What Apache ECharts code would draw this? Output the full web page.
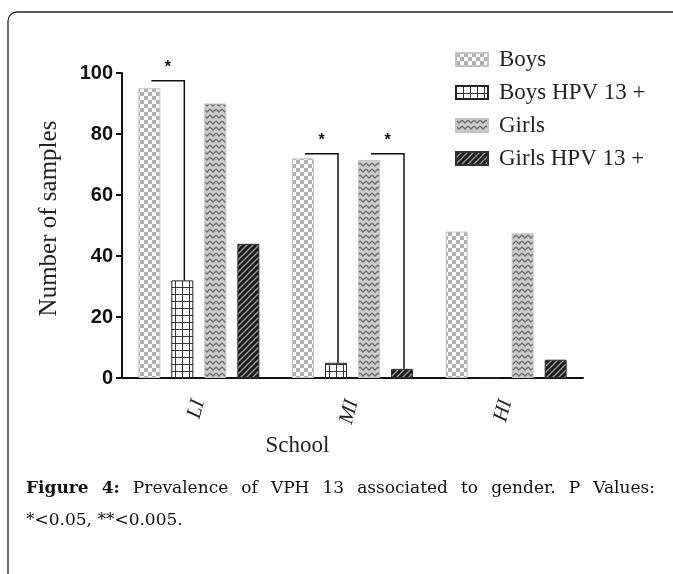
<!DOCTYPE html>
<html>
<head>
<meta charset="utf-8">
<script src="https://cdn.jsdelivr.net/npm/echarts@6/dist/echarts.min.js"></script>
<style>
  html, body { margin: 0; padding: 0; background: #fff; }
  #main { width: 673px; height: 574px; }
</style>
</head>
<body>
<div id="main"></div>
<script>
// data
var schools = ['LI', 'MI', 'HI'];
var seriesNames = ['Boys', 'Boys HPV 13 +', 'Girls', 'Girls HPV 13 +'];
var boys = [95, 72, 48];
var boysHpv = [32, 5, 0];
var girls = [90, 71.5, 47.5];
var girlsHpv = [44, 3, 6];
var yTicks = [0, 20, 40, 60, 80, 100];

// significance brackets: school index, from series, to series, bracket height
var sigSchool = [0, 1, 1];
var sigFrom = [0, 0, 2];
var sigTo = [1, 1, 3];
var sigLevel = [97.5, 73.5, 73.5];

var allValues = [boys, boysHpv, girls, girlsHpv];
var barW = 22, barGapPx = 11;

function barOffset(i) {
    return (i - 1.5) * (barW + barGapPx);
}

function makePattern(w, h, draw) {
    var c = document.createElement('canvas');
    c.width = w; c.height = h;
    draw(c.getContext('2d'));
    return { image: c, repeat: 'repeat' };
}

var checker = makePattern(8, 8, function (ctx) {
    ctx.fillStyle = '#fbfbfb'; ctx.fillRect(0, 0, 8, 8);
    ctx.fillStyle = '#b0b0b0';
    ctx.fillRect(0, 0, 4, 4); ctx.fillRect(4, 4, 4, 4);
});
var grid = makePattern(7, 7, function (ctx) {
    ctx.fillStyle = '#fff'; ctx.fillRect(0, 0, 7, 7);
    ctx.fillStyle = '#333';
    ctx.fillRect(0, 0, 7, 1); ctx.fillRect(0, 0, 1, 7);
});
var wave = makePattern(6, 6, function (ctx) {
    ctx.fillStyle = '#cdcdcd'; ctx.fillRect(0, 0, 6, 6);
    ctx.strokeStyle = '#6e6e6e'; ctx.lineWidth = 1.3;
    ctx.beginPath(); ctx.moveTo(0, 1); ctx.lineTo(3, 4); ctx.lineTo(6, 1); ctx.stroke();
});
var hatch = makePattern(6, 6, function (ctx) {
    ctx.fillStyle = '#1a1a1a'; ctx.fillRect(0, 0, 6, 6);
    ctx.strokeStyle = '#9a9a9a'; ctx.lineWidth = 1.4;
    ctx.beginPath();
    ctx.moveTo(-1, 7); ctx.lineTo(7, -1);
    ctx.moveTo(-1, 1); ctx.lineTo(1, -1);
    ctx.moveTo(5, 7); ctx.lineTo(7, 5);
    ctx.stroke();
});

var fills = [checker, grid, wave, hatch];
var borders = ['#c4c4c4', '#222', '#c4c4c4', '#333'];

var sigData = sigSchool.map(function (s, i) {
    return [s, sigFrom[i], sigTo[i], sigLevel[i]];
});

var barSeries = seriesNames.map(function (name, i) {
    return {
        name: name,
        type: 'bar',
        data: allValues[i],
        barWidth: barW,
        barGap: '50%',
        itemStyle: { color: fills[i], borderColor: borders[i], borderWidth: 1 }
    };
});

barSeries.push({
    type: 'custom',
    data: sigData,
    encode: { x: 0, y: 3 },
    z: 5,
    renderItem: function (params, api) {
        var cat = api.value(0), from = api.value(1), to = api.value(2), level = api.value(3);
        var top = api.coord([cat, level]);
        var base = api.coord([cat, allValues[to][cat]]);
        var x1 = top[0] + barOffset(from) + 2, x2 = top[0] + barOffset(to) + 2;
        return {
            type: 'group',
            children: [
                {
                    type: 'polyline',
                    shape: { points: [[x1, top[1]], [x2, top[1]], [x2, base[1]]] },
                    style: { stroke: '#111', lineWidth: 1.5, fill: null }
                },
                {
                    type: 'text',
                    x: (x1 + x2) / 2, y: top[1] - 5,
                    style: {
                        text: '*', font: 'bold 16px "Liberation Sans"',
                        textAlign: 'center', textVerticalAlign: 'bottom', fill: '#111'
                    }
                }
            ]
        };
    }
});

// caption, justified like the printed figure
var measure = document.createElement('canvas').getContext('2d');
var capFont = '17px "DejaVu Serif"';
var capBold = 'bold 17px "DejaVu Serif"';
var line1 = [['Figure', capBold], ['4:', capBold], ['Prevalence', capFont], ['of', capFont],
    ['VPH', capFont], ['13', capFont], ['associated', capFont], ['to', capFont],
    ['gender.', capFont], ['P', capFont], ['Values:', capFont]];
function justify(words, y, x0, x1) {
    var widths = words.map(function (w) { measure.font = w[1]; return measure.measureText(w[0]).width; });
    var total = widths.reduce(function (a, b) { return a + b; }, 0);
    var gap = (x1 - x0 - total) / (words.length - 1);
    var x = x0, out = [];
    words.forEach(function (w, i) {
        out.push({ type: 'text', x: x, y: y, style: { text: w[0], font: w[1], fill: '#111', textVerticalAlign: 'middle' } });
        x += widths[i] + gap;
    });
    return out;
}

var graphics = [{
    type: 'rect',
    shape: { x: 8, y: 12, width: 720, height: 620, r: 9 },
    style: { fill: null, stroke: '#222', lineWidth: 1.3 },
    silent: true
}].concat(justify(line1, 489, 26, 655)).concat([{
    type: 'text', x: 26, y: 521,
    style: { text: '*<0.05, **<0.005.', font: capFont, fill: '#111', textVerticalAlign: 'middle' }
}]);

var option = {
    animation: false,
    backgroundColor: '#fff',
    grid: { left: 122, right: 90, top: 73, bottom: 196, containLabel: false },
    legend: {
        data: seriesNames,
        orient: 'vertical',
        left: 455, top: 48,
        padding: 0,
        itemWidth: 32, itemHeight: 13, itemGap: 10,
        icon: 'rect',
        textStyle: { fontFamily: 'Liberation Serif', fontSize: 23, color: '#222', lineHeight: 22, padding: [0, 0, 0, 6] }
    },
    xAxis: {
        type: 'category',
        data: schools,
        name: 'School',
        nameLocation: 'middle',
        nameGap: 56,
        nameTextStyle: { fontFamily: 'Liberation Serif', fontSize: 23, color: '#222', padding: [0, 110, 0, 0] },
        axisLine: { lineStyle: { color: '#111', width: 2 } },
        axisTick: { alignWithLabel: true, length: 7, lineStyle: { width: 2, color: '#111' } },
        axisLabel: { rotate: 75, margin: 22, fontFamily: 'Liberation Serif', fontStyle: 'italic', fontSize: 21, color: '#222', padding: [0, 0, 6, 0] }
    },
    yAxis: {
        type: 'value',
        min: yTicks[0], max: yTicks[yTicks.length - 1], interval: 20,
        name: 'Number of samples',
        nameLocation: 'middle',
        nameGap: 60,
        nameRotate: 90,
        nameTextStyle: { fontFamily: 'Liberation Serif', fontSize: 25, color: '#222', padding: [0, 0, 0, 14] },
        splitLine: { show: false },
        axisLine: { show: true, lineStyle: { color: '#111', width: 2 } },
        axisTick: { show: true, length: 6, lineStyle: { width: 2, color: '#111' } },
        axisLabel: { margin: 9, fontFamily: 'Liberation Sans', fontWeight: 'bold', fontSize: 20, color: '#111' }
    },
    graphic: graphics,
    series: barSeries
};

var myChart = echarts.init(document.getElementById('main'));
myChart.setOption(option);
</script>
</body>
</html>
